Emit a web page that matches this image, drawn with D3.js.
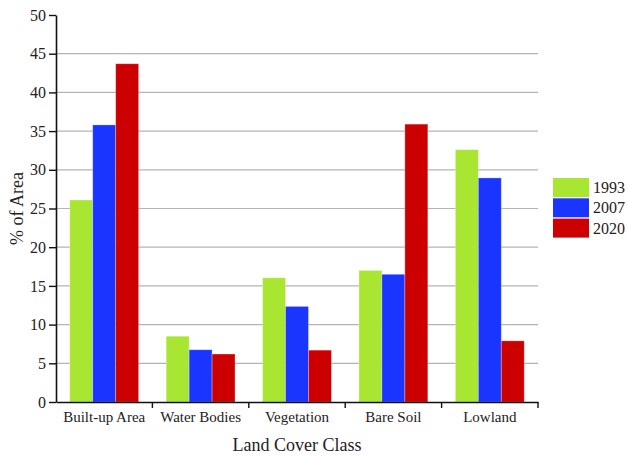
<!DOCTYPE html>
<html>
<head>
<meta charset="utf-8">
<script src="https://cdn.jsdelivr.net/npm/d3@7"></script>
<style>
  body { margin: 0; background: #fff; }
  text { font-family: "Liberation Serif", "Times New Roman", serif; fill: #222; }
</style>
</head>
<body>
<div id="chart"></div>
<script>
const WIDTH = 628;
const HEIGHT = 456;

const categories = ['Built-up Area', 'Water Bodies', 'Vegetation', 'Bare Soil', 'Lowland'];
const years = ['1993', '2007', '2020'];
const values1993 = [26.1, 8.5, 16.05, 17.0, 32.6];
const values2007 = [35.8, 6.75, 12.35, 16.5, 28.95];
const values2020 = [43.7, 6.2, 6.7, 35.9, 7.9];
const yTicks = [0, 5, 10, 15, 20, 25, 30, 35, 40, 45, 50];
const colors = ['#a8e632', '#1a35ff', '#cc0000'];

const series = [values1993, values2007, values2020];
const margin = { top: 15, right: 90, bottom: 54, left: 56 };

const svg = d3.select('#chart')
  .append('svg')
  .attr('width', WIDTH)
  .attr('height', HEIGHT);

const plotW = WIDTH - margin.left - margin.right;
const plotH = HEIGHT - margin.top - margin.bottom;

const g = svg.append('g')
  .attr('transform', `translate(${margin.left},${margin.top})`);

const x0 = d3.scaleBand().domain(categories).range([0, plotW]).padding(0);
const x1 = d3.scaleBand().domain(years).range([0, x0.bandwidth()])
  .paddingInner(0).paddingOuter(0.6);
const y = d3.scaleLinear().domain([0, 50]).range([plotH, 0]);

// gridlines
g.selectAll('line.grid')
  .data(yTicks.filter(d => d > 0 && d < 50))
  .enter()
  .append('line')
  .attr('class', 'grid')
  .attr('x1', 0)
  .attr('x2', plotW)
  .attr('y1', d => y(d))
  .attr('y2', d => y(d))
  .attr('stroke', '#b4b4b4')
  .attr('stroke-width', 1.2);

// bars
const groups = g.selectAll('g.cat')
  .data(categories)
  .enter()
  .append('g')
  .attr('transform', d => `translate(${x0(d)},0)`);

groups.selectAll('rect')
  .data((c, i) => years.map((yr, j) => ({ yr, v: series[j][i], j })))
  .enter()
  .append('rect')
  .attr('x', d => x1(d.yr))
  .attr('width', x1.bandwidth())
  .attr('y', d => y(d.v))
  .attr('height', d => plotH - y(d.v))
  .attr('fill', d => colors[d.j])
  .attr('stroke', 'rgba(255,255,255,0.35)')
  .attr('stroke-width', 0.8);

// y axis
const yAxis = g.append('g')
  .call(d3.axisLeft(y).tickValues(yTicks).tickSize(7).tickPadding(3).tickSizeOuter(0));
yAxis.select('.domain').attr('stroke', '#111').attr('stroke-width', 1.6);
yAxis.selectAll('.tick line').attr('stroke', '#111').attr('stroke-width', 1.4);
yAxis.selectAll('.tick text')
  .style('font-family', '"Liberation Serif", serif')
  .style('font-size', '16px')
  .attr('fill', '#222');

// x axis
const xAxis = g.append('g')
  .attr('transform', `translate(0,${plotH})`)
  .call(d3.axisBottom(x0).tickSize(0).tickPadding(9));
xAxis.select('.domain').attr('stroke', '#111').attr('stroke-width', 1.6);
xAxis.selectAll('.tick text')
  .style('font-family', '"Liberation Serif", serif')
  .style('font-size', '15px')
  .attr('fill', '#222');

// x boundary ticks
g.selectAll('line.xtick')
  .data(categories.slice(1).concat(['end']))
  .enter()
  .append('line')
  .attr('x1', d => d === 'end' ? plotW : x0(d))
  .attr('x2', d => d === 'end' ? plotW : x0(d))
  .attr('y1', plotH)
  .attr('y2', plotH + 6)
  .attr('stroke', '#111')
  .attr('stroke-width', 1.4);

// axis titles
svg.append('text')
  .attr('x', margin.left + plotW / 2)
  .attr('y', 451)
  .attr('text-anchor', 'middle')
  .style('font-size', '18px')
  .text('Land Cover Class');

svg.append('text')
  .attr('transform', `translate(23,${margin.top + plotH / 2}) rotate(-90)`)
  .attr('text-anchor', 'middle')
  .style('font-size', '18px')
  .text('% of Area');

// legend
const legend = svg.append('g').attr('transform', 'translate(553,178)');
const lg = legend.selectAll('g')
  .data(years)
  .enter()
  .append('g')
  .attr('transform', (d, i) => `translate(0,${i * 20.3})`);
lg.append('rect')
  .attr('width', 36)
  .attr('height', 19)
  .attr('fill', (d, i) => colors[i]);
lg.append('text')
  .attr('x', 40)
  .attr('y', 15)
  .style('font-size', '16px')
  .text(d => d);
</script>
</body>
</html>
